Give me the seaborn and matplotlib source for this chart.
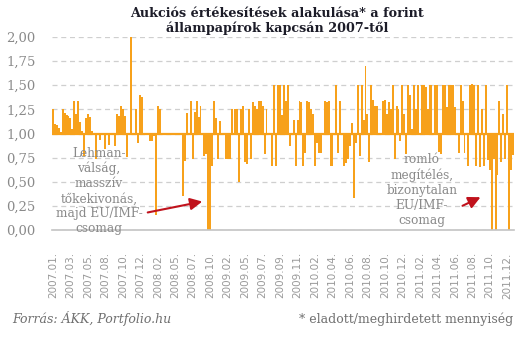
import matplotlib
matplotlib.use("Agg")
import matplotlib.pyplot as plt
import seaborn as sns
import numpy as np
import pandas as pd
from matplotlib.ticker import FuncFormatter

# sold / offered ratio of each auction, in time order
auctions_1 = [1.25, 1.10, 1.09, 1.06, 1.02, 1.25, 1.21, 1.19, 1.18, 1.16, 1.05, 1.34, 1.20, 1.34, 1.12,
              1.03, 0.77, 1.16, 1.20, 1.17, 1.03, 1.00, 0.74, 1.00, 0.93, 1.00, 1.00, 0.84, 1.00]
auctions_2 = [0.88, 1.00, 1.00, 0.87, 1.20, 1.18, 1.29, 1.25, 1.18, 0.76, 1.00, 2.00, 1.00, 1.00, 1.25,
              0.90, 1.40, 1.38, 1.00, 1.00, 1.00, 0.92, 0.92, 0.97, 0.16, 1.28, 1.25, 1.00, 1.00, 1.00]
auctions_3 = [1.00, 1.00, 1.00, 1.00, 1.00, 1.00, 1.00, 1.00, 0.35, 0.72, 1.21, 1.00, 1.34, 0.74, 1.22,
              1.34, 1.17, 1.29, 1.00, 0.77, 0.79, 0.00, 0.00, 0.66, 1.34, 1.16, 0.74, 1.13, 1.00, 1.00]
auctions_4 = [0.74, 0.74, 0.74, 1.25, 1.00, 1.25, 1.25, 0.50, 1.25, 1.29, 0.70, 0.68, 1.25, 0.74, 1.33,
              1.29, 1.25, 1.34, 1.34, 1.29, 0.79, 1.25, 1.00, 1.00, 0.66, 1.50, 0.66, 1.50, 1.50, 1.19]
auctions_5 = [1.50, 1.34, 1.50, 0.87, 1.00, 1.14, 0.66, 1.14, 1.34, 1.33, 0.66, 0.80, 1.34, 1.33, 1.25,
              1.20, 0.66, 0.90, 0.80, 0.80, 1.00, 1.34, 1.33, 1.34, 0.66, 0.66, 1.00, 1.50, 0.80, 1.34]
auctions_6 = [1.00, 0.66, 0.69, 0.74, 0.87, 1.11, 0.33, 0.90, 1.50, 0.77, 1.50, 1.14, 1.70, 1.20, 0.70,
              1.50, 1.35, 1.29, 1.29, 1.00, 1.00, 1.34, 1.35, 1.20, 1.33, 1.25, 1.50, 0.74, 1.29, 1.25]
auctions_7 = [0.92, 1.50, 1.20, 0.79, 1.50, 1.40, 1.05, 1.50, 1.25, 1.50, 1.00, 1.50, 1.50, 1.48, 1.25,
              1.50, 1.50, 1.00, 1.50, 1.50, 0.81, 0.79, 1.50, 1.50, 1.27, 1.50, 1.50, 1.50, 1.27, 1.00]
auctions_8 = [0.80, 1.50, 1.34, 0.80, 1.00, 0.66, 1.50, 1.51, 1.50, 0.66, 1.50, 0.65, 1.25, 0.66, 1.50,
              0.73, 0.62, 0.00, 0.74, 0.00, 0.57, 1.34, 0.70, 1.20, 0.74, 1.50, 0.00, 0.62, 0.78]

tick_labels = ["2007.01.", "2007.03.", "2007.05.", "2007.08.", "2007.10.", "2007.12.", "2008.02.",
               "2008.05.", "2008.07.", "2008.10.", "2009.02.", "2009.05.", "2009.07.", "2009.09.",
               "2009.11.", "2010.02.", "2010.04.", "2010.06.", "2010.08.", "2010.10.", "2010.12.",
               "2011.02.", "2011.04.", "2011.06.", "2011.08.", "2011.10.", "2011.12."]
tick_every = 9
baseline = 1.0

title = "Aukciós értékesítések alakulása* a forint\nállampapírok kapcsán 2007-től"
note_left = "Lehman-\nválság,\nmasszív\ntőkekivonás,\nmajd EU/IMF-\ncsomag"
note_right = "romló\nmegítélés,\nbizonytalan\nEU/IMF-\ncsomag"
source = "Forrás: ÁKK, Portfolio.hu"
footnote = "* eladott/meghirdetett mennyiség"

ratio = np.array(auctions_1 + auctions_2 + auctions_3 + auctions_4 +
                 auctions_5 + auctions_6 + auctions_7 + auctions_8)

ORANGE = "#F7A11B"
GREY = "#8a8a8a"
RED = "#C0121C"

sns.set_theme(style="white")
plt.rcParams['font.family'] = ['DejaVu Sans']

W, H = 528, 337
fig = plt.figure(figsize=(W / 100, H / 100), dpi=100)
fig.patch.set_facecolor("white")
ax = fig.add_axes([52 / W, 1 - 230 / H, 462 / W, 193 / H])

df = pd.DataFrame({"auction": np.arange(len(ratio)), "dev": ratio - baseline})
sns.barplot(data=df, x="auction", y="dev", color=ORANGE, saturation=1, width=1.0,
            linewidth=0, ax=ax, zorder=2)
ax.axhline(0, color=ORANGE, lw=1.6, zorder=3)

ax.set_xlim(-0.5, len(ratio) - 0.5)
ax.set_ylim(-1.0, 1.0)
ax.set_yticks(np.arange(-1.0, 1.001, 0.25))
ax.yaxis.set_major_formatter(FuncFormatter(lambda v, p: f"{v + baseline:.2f}".replace(".", ",")))
ax.set_xticks(np.arange(0, len(ratio), tick_every)[:len(tick_labels)])
ax.set_xticklabels(tick_labels, rotation=90, fontsize=7.5, color="#999999", family="DejaVu Sans")
ax.set_xlabel("")
ax.set_ylabel("")
for lab in ax.get_yticklabels():
    lab.set_family("DejaVu Serif")
    lab.set_fontsize(9.5)
    lab.set_color(GREY)
ax.tick_params(axis="y", length=0, pad=12)
ax.tick_params(axis="x", length=0, pad=16)

ax.yaxis.grid(True, linestyle=(0, (4, 3)), color="#cfcfcf", lw=0.9)
ax.xaxis.grid(False)
ax.set_axisbelow(True)
for s in ["top", "right", "left"]:
    ax.spines[s].set_visible(False)
ax.spines["bottom"].set_color("#c4c4c4")
ax.spines["bottom"].set_linewidth(1.2)

fig.text(277 / W, 1 - 21 / H, title, ha="center", va="center", fontsize=9.2,
         fontweight="bold", family="DejaVu Serif", color="#1c1c28", linespacing=1.15)

fig.text(99 / W, 1 - 191 / H, note_left, ha="center", va="center", fontsize=8.7,
         family="DejaVu Serif", color=GREY, linespacing=1.2, zorder=5)
fig.text(422 / W, 1 - 190 / H, note_right, ha="center", va="center", fontsize=8.7,
         family="DejaVu Serif", color=GREY, linespacing=1.2, zorder=5)

ax.annotate("", xy=(205 / W, 1 - 201 / H), xytext=(145 / W, 1 - 213 / H),
            xycoords="figure fraction", textcoords="figure fraction",
            arrowprops=dict(arrowstyle="-|>,head_length=0.6,head_width=0.3", color=RED, lw=1.5))
ax.annotate("", xy=(483 / W, 1 - 196 / H), xytext=(460 / W, 1 - 207 / H),
            xycoords="figure fraction", textcoords="figure fraction",
            arrowprops=dict(arrowstyle="-|>,head_length=0.6,head_width=0.3", color=RED, lw=1.5))

fig.text(12 / W, 1 - 319 / H, source, ha="left", va="center", fontsize=9,
         family="DejaVu Serif", style="italic", color="#707070")
fig.text(513 / W, 1 - 319 / H, footnote, ha="right", va="center", fontsize=9,
         family="DejaVu Serif", color="#707070")

fig.savefig("out.png", dpi=100, facecolor="white")
